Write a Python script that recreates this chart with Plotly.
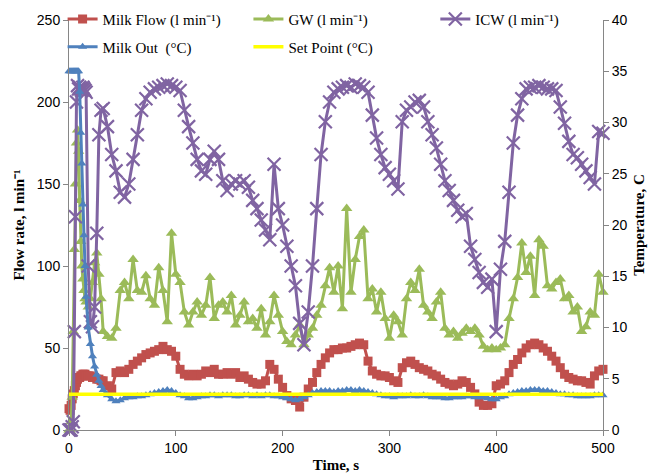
import plotly.graph_objects as go

# ---- sample times (s) ----
t_early = [0, 1, 2, 3, 4, 5, 6, 7, 8, 9, 10, 11, 12, 13, 14, 15, 16, 18, 20, 22, 24, 26, 28, 30]
t_main = [32, 36, 40, 44, 48, 52, 56, 60, 64, 68,
          72, 76, 80, 84, 88, 92, 96, 100, 104, 108,
          112, 116, 120, 124, 128, 132, 136, 140, 144, 148,
          152, 156, 160, 164, 168, 172, 176, 180, 184, 188,
          192, 196, 200, 204, 208, 212, 216, 220, 224, 228,
          232, 236, 240, 244, 248, 252, 256, 260, 264, 268,
          272, 276, 280, 284, 288, 292, 296, 300, 304, 308,
          312, 316, 320, 324, 328, 332, 336, 340, 344, 348,
          352, 356, 360, 364, 368, 372, 376, 380, 384, 388,
          392, 396, 400, 404, 408, 412, 416, 420, 424, 428,
          432, 436, 440, 444, 448, 452, 456, 460, 464, 468,
          472, 476, 480, 484, 488, 492, 496, 500]
time_s = t_early + t_main

# ---- Milk Flow (l/min) ----
milk_flow = [13, 12, 15, 19, 22, 24, 27, 29, 31, 32, 32, 33, 33, 34, 34, 34, 33, 33, 33, 32, 32, 31, 31, 30,
             30, 27, 25, 35, 36, 35, 37, 40, 42, 44,
             46, 47, 48, 49, 51, 49, 48, 45, 37, 34,
             33, 34, 33, 34, 36, 35, 37, 34, 34, 35,
             34, 35, 32, 33, 31, 29, 28, 28, 30, 40,
             37, 31, 26, 21, 19, 18, 14, 20, 25, 29,
             35, 40, 44, 47, 49, 49, 50, 50, 51, 52,
             53, 52, 42, 36, 34, 33, 33, 32, 30, 29,
             38, 41, 42, 40, 38, 37, 36, 34, 33, 31,
             29, 28, 27, 28, 30, 29, 26, 22, 17, 15,
             15, 16, 27, 28, 30, 35, 40, 43, 47, 50,
             52, 53, 52, 50, 48, 45, 42, 38, 34, 32,
             31, 30, 30, 29, 28, 33, 36, 37]

# ---- GW (l/min) ----
gw = [0, 0, 5, 20, 60, 110, 150, 175, 183, 170, 140, 115, 100, 92, 85, 80, 78, 75, 80, 90, 102, 108, 95, 80,
      60, 57, 56, 62, 85, 90, 80, 104, 85, 84,
      94, 80, 76, 99, 85, 66, 120, 95, 90, 72,
      64, 72, 78, 70, 76, 93, 68, 76, 78, 72,
      82, 64, 70, 78, 66, 68, 62, 74, 58, 66,
      82, 70, 60, 54, 52, 58, 64, 52, 58, 62,
      70, 76, 88, 99, 84, 100, 74, 135, 84, 104,
      118, 122, 80, 86, 72, 84, 68, 56, 70, 66,
      58, 80, 90, 85, 98, 76, 72, 68, 78, 84,
      62, 58, 60, 56, 59, 62, 60, 62, 58, 51,
      49, 50, 49, 50, 52, 68, 80, 93, 114, 96,
      106, 82, 116, 112, 88, 86, 90, 92, 80, 82,
      72, 75, 60, 63, 72, 70, 95, 84]

# ---- ICW (l/min) ----
icw = [0, 0, 0, 2, 5, 60, 130, 200, 210, 208, 209, 208, 207, 209, 208, 207, 206, 100, 66, 63, 75, 120, 180, 195,
       196, 185, 168, 158, 145, 142, 150, 165, 180, 195,
       202, 206, 208, 209, 210, 211, 210, 209, 207, 195,
       185, 175, 165, 158, 156, 165, 170, 165, 152, 146,
       150, 152, 150, 152, 148, 140, 135, 128, 122, 116,
       162, 135, 125, 112, 100, 88, 65, 52, 72, 100,
       135, 168, 188, 200, 206, 208, 209, 210, 209, 211,
       210, 209, 206, 192, 178, 168, 160, 156, 152, 147,
       188, 195, 197, 200, 201, 197, 188, 180, 172, 162,
       152, 146, 140, 134, 130, 132, 112, 104, 96, 90,
       87, 92, 60, 98, 115, 145, 175, 192, 202, 208,
       209, 209, 210, 209, 208, 208, 207, 197, 187, 176,
       168, 166, 162, 158, 154, 150, 182, 181]

# ---- Milk Out (deg C) ----
milk_out = [35, 35, 35, 35, 35, 35, 35, 35, 35, 35, 33, 29, 26, 22, 19, 16, 13, 10, 8.4, 7.2, 6.2, 5.4, 4.8, 4.3,
            3.9, 3.4, 3.0, 2.8, 2.9, 3.1, 3.2, 3.2, 3.3, 3.3,
            3.4, 3.5, 3.6, 3.7, 3.8, 3.9, 3.8, 3.6, 3.4, 3.3,
            3.1, 3.1, 3.2, 3.3, 3.3, 3.4, 3.4, 3.3, 3.4, 3.4,
            3.4, 3.3, 3.3, 3.4, 3.4, 3.3, 3.4, 3.3, 3.4, 3.4,
            3.3, 3.3, 3.2, 3.1, 3.0, 2.9, 3.0, 3.2, 3.4, 3.6,
            3.7, 3.8, 3.8, 3.8, 3.7, 3.8, 3.8, 3.9, 3.9, 3.8,
            3.9, 3.8, 3.7, 3.6, 3.5, 3.4, 3.3, 3.3, 3.2, 3.3,
            3.3, 3.3, 3.4, 3.3, 3.3, 3.4, 3.3, 3.2, 3.2, 3.2,
            3.1, 3.1, 3.2, 3.2, 3.2, 3.3, 3.3, 3.2, 3.2, 3.2,
            3.1, 3.0, 3.0, 3.2, 3.3, 3.5, 3.6, 3.7, 3.8, 3.8,
            3.9, 3.9, 3.9, 3.8, 3.8, 3.7, 3.6, 3.5, 3.5, 3.4,
            3.4, 3.3, 3.3, 3.3, 3.3, 3.4, 3.4, 3.4]

# ---- Set point (deg C) ----
set_time = [0, 500]
set_point = [3.5, 3.5]

names = ["Milk Flow (l min\u207b\u00b9)", "GW (l min\u207b\u00b9)", "ICW (l min\u207b\u00b9)",
         "Milk Out  (\u00b0C)", "Set Point (\u00b0C)"]
colors = ["#C0504D", "#9BBB59", "#8064A2", "#4F81BD", "#FFFF00"]

fig = go.Figure()
fig.add_trace(go.Scatter(x=time_s, y=milk_flow, name=names[0], mode="lines+markers",
                         line=dict(color=colors[0], width=3),
                         marker=dict(symbol="square", size=9, color=colors[0]),
                         cliponaxis=False, legend="legend"))
fig.add_trace(go.Scatter(x=time_s, y=gw, name=names[1], mode="lines+markers",
                         line=dict(color=colors[1], width=3),
                         marker=dict(symbol="triangle-up", size=10, color=colors[1]),
                         cliponaxis=False, legend="legend2"))
fig.add_trace(go.Scatter(x=time_s, y=icw, name=names[2], mode="lines+markers",
                         line=dict(color=colors[2], width=3),
                         marker=dict(symbol="x-thin", size=13, color=colors[2],
                                     line=dict(color=colors[2], width=2.2)),
                         cliponaxis=False, legend="legend3"))
fig.add_trace(go.Scatter(x=time_s, y=milk_out, name=names[3], mode="lines+markers", yaxis="y2",
                         line=dict(color=colors[3], width=3),
                         marker=dict(symbol="triangle-up", size=8, color=colors[3]),
                         cliponaxis=False, legend="legend4"))
fig.add_trace(go.Scatter(x=set_time, y=set_point, name=names[4], mode="lines", yaxis="y2",
                         line=dict(color=colors[4], width=3.5),
                         cliponaxis=False, legend="legend5"))

leg_font = dict(family="Liberation Serif", size=15, color="black")
def leg(x, y):
    return dict(x=x, y=y, xanchor="left", yanchor="middle", font=leg_font,
                bgcolor="rgba(0,0,0,0)", borderwidth=0, itemwidth=30)

axis_line = "#868686"
tick_font = dict(family="Liberation Sans", size=14, color="black")
title_font = dict(family="Liberation Serif", size=15, color="black")

# the page body adds an 8 px offset, so the figure is 8 px smaller than the window
fig.update_layout(
    width=649, height=465,
    margin=dict(l=61, r=54, t=12, b=43, autoexpand=False),
    plot_bgcolor="white", paper_bgcolor="white",
    showlegend=True,
    legend=leg(-0.012, 1.002),
    legend2=leg(0.336, 1.002),
    legend3=leg(0.686, 1.002),
    legend4=leg(-0.012, 0.934),
    legend5=leg(0.336, 0.934),
    xaxis=dict(range=[0, 500], dtick=100, showgrid=False, zeroline=False, automargin=False,
               showline=True, linecolor=axis_line, linewidth=1,
               ticks="outside", ticklen=5, tickcolor=axis_line, tickfont=tick_font,
               title=dict(text="<b>Time, s</b>", font=title_font, standoff=6)),
    yaxis=dict(range=[0, 250], dtick=50, showgrid=False, zeroline=False, automargin=False,
               showline=True, linecolor=axis_line, linewidth=1,
               ticks="outside", ticklen=5, tickcolor=axis_line, tickfont=tick_font,
               title=dict(text="<b>Flow rate, l min\u207b\u00b9</b>", font=title_font, standoff=8)),
    yaxis2=dict(range=[0, 40], dtick=5, overlaying="y", side="right", showgrid=False, zeroline=False,
                automargin=False,
                showline=True, linecolor=axis_line, linewidth=1,
                ticks="outside", ticklen=5, tickcolor=axis_line, tickfont=tick_font,
                title=dict(text="<b>Temperature, C</b>", font=title_font, standoff=6)),
)

fig.write_html("out.html")
